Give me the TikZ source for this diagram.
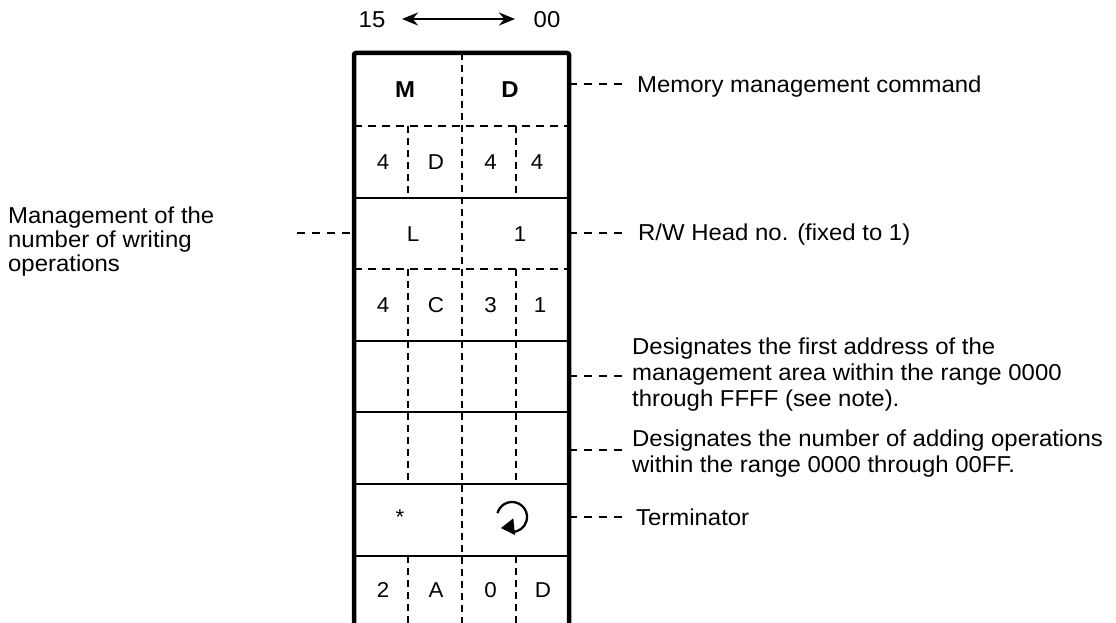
\documentclass[tikz,border=0pt]{standalone}
\usepackage{fontspec}
\setmainfont{Liberation Sans}[FakeStretch=1.04]
\usetikzlibrary{arrows.meta}
\begin{document}
\begin{tikzpicture}[x=1pt,y=-1pt,
  lbl/.style={font=\fontsize{23}{26}\selectfont, inner sep=0pt, align=left},
  cell/.style={font=\fontsize{21.5}{24}\selectfont, anchor=base, inner sep=0pt},
  bcell/.style={font=\fontsize{23}{26}\selectfont\bfseries, anchor=base, inner sep=0pt},
  frame/.style={line width=4.5pt, rounded corners=2pt},
  hsolid/.style={line width=2.3pt},
  hdash/.style={line width=2.6pt, dash pattern=on 8pt off 6pt},
  vdash/.style={line width=2.6pt, dash pattern=on 7pt off 5pt},
  leader/.style={line width=2pt, dash pattern=on 8pt off 7pt},
]
\useasboundingbox (0,0) rectangle (1116,623);

% bit-order arrow
\node[lbl, anchor=base] (b15) at (372,28) {15};
\node[lbl, anchor=base] (b00) at (547,28) {00};
\coordinate (aL) at (402,19);
\coordinate (aR) at (515,19);
\draw[line width=2.5pt, {Stealth[length=16pt,width=13pt]}-{Stealth[length=16pt,width=13pt]}] (aL) -- (aR);

% internal lines
\draw[hdash] (354,126) -- (569,126);
\draw[hsolid] (354,198) -- (569,198);
\draw[hdash] (354,269) -- (569,269);
\draw[hsolid] (354,341) -- (569,341);
\draw[hsolid] (354,412) -- (569,412);
\draw[hsolid] (354,484) -- (569,484);
\draw[hsolid] (354,556) -- (569,556);

\draw[vdash] (462,53) -- (462,623);
\foreach \x in {408,516}{
  \draw[vdash] (\x,126) -- (\x,198);
  \draw[vdash] (\x,269) -- (\x,484);
  \draw[vdash] (\x,556) -- (\x,623);
}

% outer frame
\draw[frame] (354,623) -- (354,53) -- (569,53) -- (569,623);

% cells
\node[bcell] (cM) at (405,97.5) {M};
\node[bcell] (cD) at (510,97.5) {D};
\node[cell] (r2a) at (383,169.5) {4};
\node[cell] (r2b) at (436,169.5) {D};
\node[cell] (r2c) at (490.5,169.5) {4};
\node[cell] (r2d) at (537,169.5) {4};
\node[cell] (r3a) at (413,241) {L};
\node[cell] (r3b) at (520,241) {1};
\node[cell] (r4a) at (383,312.5) {4};
\node[cell] (r4b) at (436,312.5) {C};
\node[cell] (r4c) at (490.5,312.5) {3};
\node[cell] (r4d) at (540,312.5) {1};
\node[cell] (r7a) at (400,524) {*};
% terminator symbol
\draw[line width=2.3pt] (512,517) ++(195:15) arc[start angle=195, end angle=452, radius=15];
\fill (513.3,518.3) -- (501,528) -- (515,535) -- cycle;
\node[cell] (r8a) at (383,597.5) {2};
\node[cell] (r8b) at (436,597.5) {A};
\node[cell] (r8c) at (490.5,597.5) {0};
\node[cell] (r8d) at (543,597.5) {D};

% right labels
\node[lbl, anchor=base west] (t1) at (637,93) {Memory management command};
\node[lbl, anchor=base west] (t2) at (638,240) {R/W Head no. (fixed to 1)};
\node[lbl, anchor=west] (t3) at (632,375) {Designates the first address of the\\management area within the range 0000\\through FFFF (see note).};
\node[lbl, anchor=west] (t4) at (632,454) {Designates the number of adding operations\\within the range 0000 through 00FF.};
\node[lbl, anchor=base west] (t5) at (636,525) {Terminator};

\coordinate (s1) at (569,84);
\coordinate (s2) at (569,233);
\coordinate (s3) at (569,376);
\coordinate (s4) at (569,450);
\coordinate (s5) at (569,517);
\draw[leader] (s1) -- (627,84);
\draw[leader] (s2) -- (627,233);
\draw[leader] (s3) -- (627,376);
\draw[leader] (s4) -- (627,450);
\draw[leader] (s5) -- (627,517);

% left label
\node[lbl, anchor=west, font=\fontsize{23}{24}\selectfont] (l1) at (8,242) {Management of the\\number of writing\\operations};
\coordinate (s6) at (354,233);
\draw[leader] (297,233) -- (s6);
\end{tikzpicture}
\end{document}
